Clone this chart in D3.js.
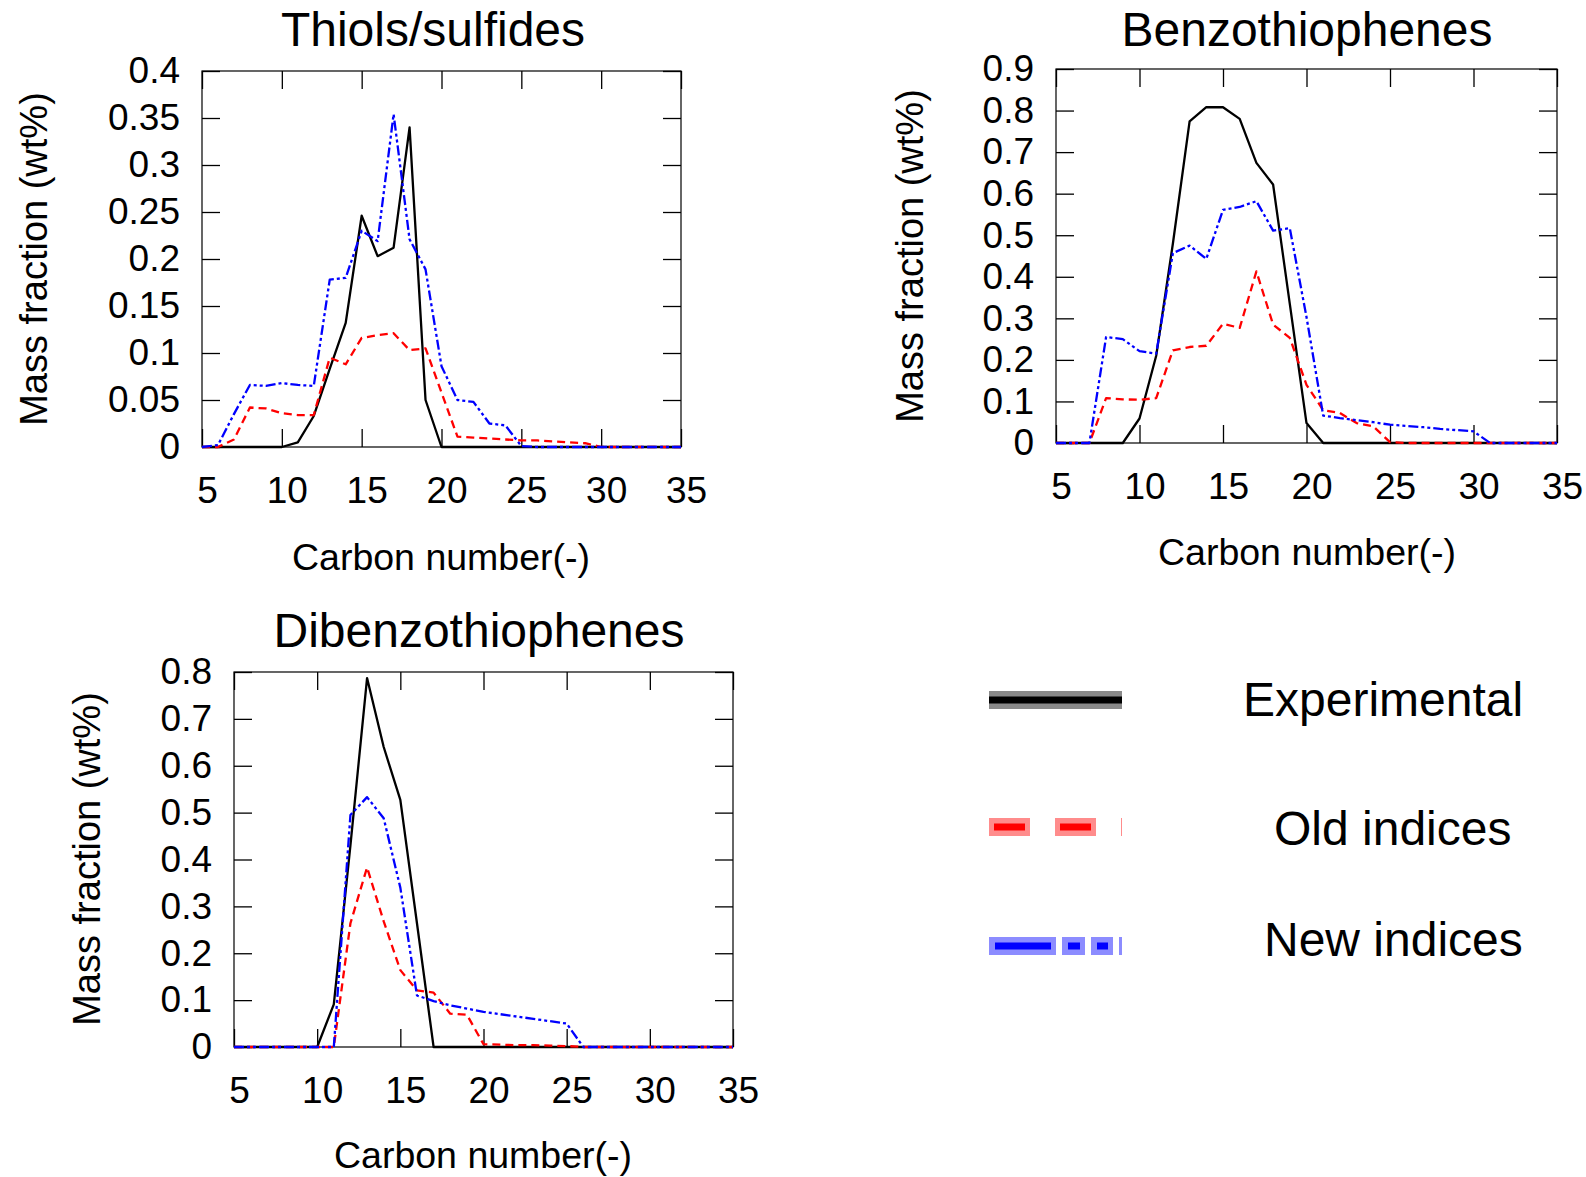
<!DOCTYPE html>
<html>
<head>
<meta charset="utf-8">
<script src="https://cdn.jsdelivr.net/npm/d3@7"></script>
<style>
  html, body { margin: 0; padding: 0; background: #fff; }
  svg { display: block; }
  text { font-family: "Liberation Sans", Arial, Helvetica, sans-serif; fill: #000; }
</style>
</head>
<body>
<svg id="chart" width="1586" height="1177"></svg>
<script>
// Carbon number grid shared by every panel
const carbonNumber = [5,6,7,8,9,10,11,12,13,14,15,16,17,18,19,20,21,22,23,24,25,26,27,28,29,30,31,32,33,34,35];
const xTickValues = [5,10,15,20,25,30,35];
const xTickLabels = ["5","10","15","20","25","30","35"];

// Thiols/sulfides (wt%)
const thiolsExperimental = [0,0,0,0,0,0,0.005,0.033,0.083,0.132,0.246,0.203,0.212,0.340,0.050,0,0,0,0,0,0,0,0,0,0,0,0,0,0,0,0];
const thiolsOld = [0,0,0.008,0.042,0.041,0.036,0.034,0.034,0.095,0.088,0.116,0.119,0.121,0.103,0.105,0.058,0.011,0.010,0.009,0.008,0.007,0.007,0.006,0.005,0.004,0,0,0,0,0,0];
const thiolsNew = [0,0.002,0.035,0.066,0.065,0.068,0.066,0.065,0.178,0.180,0.230,0.219,0.354,0.221,0.189,0.086,0.050,0.048,0.025,0.023,0.001,0,0,0,0,0,0,0,0,0,0];
const thiolsYTicks = [0,0.05,0.1,0.15,0.2,0.25,0.3,0.35,0.4];
const thiolsYLabels = ["0","0.05","0.1","0.15","0.2","0.25","0.3","0.35","0.4"];

// Benzothiophenes (wt%)
const benzoExperimental = [0,0,0,0,0,0.059,0.21,0.48,0.774,0.808,0.808,0.78,0.674,0.622,0.335,0.048,0,0,0,0,0,0,0,0,0,0,0,0,0,0,0];
const benzoOld = [0,0,0,0.108,0.105,0.104,0.108,0.223,0.231,0.234,0.287,0.277,0.413,0.285,0.253,0.14,0.079,0.072,0.048,0.040,0.002,0,0,0,0,0,0,0,0,0,0];
const benzoNew = [0,0,0,0.255,0.250,0.221,0.215,0.457,0.475,0.443,0.561,0.568,0.582,0.511,0.517,0.303,0.066,0.060,0.055,0.050,0.044,0.041,0.038,0.034,0.031,0.028,0,0,0,0,0];
const benzoYTicks = [0,0.1,0.2,0.3,0.4,0.5,0.6,0.7,0.8,0.9];
const benzoYLabels = ["0","0.1","0.2","0.3","0.4","0.5","0.6","0.7","0.8","0.9"];

// Dibenzothiophenes (wt%)
const dibenzoExperimental = [0,0,0,0,0,0,0.091,0.43,0.787,0.640,0.527,0.264,0,0,0,0,0,0,0,0,0,0,0,0,0,0,0,0,0,0,0];
const dibenzoOld = [0,0,0,0,0,0,0,0.264,0.383,0.268,0.164,0.121,0.116,0.071,0.069,0.006,0.005,0.004,0.004,0.003,0.002,0,0,0,0,0,0,0,0,0,0];
const dibenzoNew = [0,0,0,0,0,0,0,0.495,0.533,0.488,0.34,0.110,0.098,0.089,0.082,0.075,0.070,0.065,0.060,0.055,0.050,0,0,0,0,0,0,0,0,0,0];
const dibenzoYTicks = [0,0.1,0.2,0.3,0.4,0.5,0.6,0.7,0.8];
const dibenzoYLabels = ["0","0.1","0.2","0.3","0.4","0.5","0.6","0.7","0.8"];

const seriesNames = ["Experimental", "Old indices", "New indices"];
const seriesColors = ["#000000", "#ff0000", "#0000ff"];
const seriesDash = [null, "8,5", "10,3,3,3,3,3"];

const panels = [
  { title: "Thiols/sulfides", series: [thiolsExperimental, thiolsOld, thiolsNew],
    yTicks: thiolsYTicks, yLabels: thiolsYLabels,
    box: { left: 202, right: 681, top: 71, bottom: 447 },
    titlePos: [433, 46], xTitlePos: [441, 570], yTitlePos: [47, 259] },
  { title: "Benzothiophenes", series: [benzoExperimental, benzoOld, benzoNew],
    yTicks: benzoYTicks, yLabels: benzoYLabels,
    box: { left: 1056, right: 1557, top: 69, bottom: 443 },
    titlePos: [1307, 46], xTitlePos: [1307, 565], yTitlePos: [923, 256] },
  { title: "Dibenzothiophenes", series: [dibenzoExperimental, dibenzoOld, dibenzoNew],
    yTicks: dibenzoYTicks, yLabels: dibenzoYLabels,
    box: { left: 234, right: 733, top: 672, bottom: 1047 },
    titlePos: [479, 647], xTitlePos: [483, 1168], yTitlePos: [100, 859] }
];

const svg = d3.select("#chart");
const TICK = 18;

panels.forEach(p => {
  const b = p.box;
  const yMax = p.yTicks[p.yTicks.length - 1];
  const x = d3.scaleLinear().domain([5, 35]).range([b.left, b.right]);
  const y = d3.scaleLinear().domain([0, yMax]).range([b.bottom, b.top]);
  const g = svg.append("g");

  // inward ticks on all four sides
  const xLab = d => xTickLabels[xTickValues.indexOf(d)];
  const yLab = d => p.yLabels[p.yTicks.indexOf(d)];

  const bottomAxis = g.append("g").attr("transform", `translate(0,${b.bottom})`)
    .call(d3.axisBottom(x).tickValues(xTickValues).tickFormat(xLab).tickSizeInner(-TICK).tickSizeOuter(0).tickPadding(30));
  const topAxis = g.append("g").attr("transform", `translate(0,${b.top})`)
    .call(d3.axisTop(x).tickValues(xTickValues).tickFormat("").tickSizeInner(-TICK).tickSizeOuter(0));
  const leftAxis = g.append("g").attr("transform", `translate(${b.left},0)`)
    .call(d3.axisLeft(y).tickValues(p.yTicks).tickFormat(yLab).tickSizeInner(-TICK).tickSizeOuter(0).tickPadding(22));
  const rightAxis = g.append("g").attr("transform", `translate(${b.right},0)`)
    .call(d3.axisRight(y).tickValues(p.yTicks).tickFormat("").tickSizeInner(-TICK).tickSizeOuter(0));

  [bottomAxis, topAxis, leftAxis, rightAxis].forEach(a => {
    a.select(".domain").remove();
    a.selectAll("line").attr("stroke", "#000").attr("stroke-width", 1.3);
    a.selectAll("text").attr("font-size", 37)
      .attr("font-family", '"Liberation Sans", Arial, sans-serif').attr("fill", "#000");
  });
  bottomAxis.selectAll("text").attr("dx", 5);

  // frame
  g.append("rect")
    .attr("x", b.left).attr("y", b.top)
    .attr("width", b.right - b.left).attr("height", b.bottom - b.top)
    .attr("fill", "none").attr("stroke", "#000").attr("stroke-width", 1.2);

  // series lines
  const line = d3.line().x((d, i) => x(carbonNumber[i])).y(d => y(d));
  p.series.forEach((vals, k) => {
    g.append("path")
      .datum(vals)
      .attr("d", line)
      .attr("fill", "none")
      .attr("stroke", seriesColors[k])
      .attr("stroke-width", 2.3)
      .attr("stroke-linejoin", "round")
      .attr("stroke-dasharray", seriesDash[k]);
  });

  // titles
  g.append("text").attr("x", p.titlePos[0]).attr("y", p.titlePos[1])
    .attr("text-anchor", "middle").attr("font-size", 48).text(p.title);
  g.append("text").attr("x", p.xTitlePos[0]).attr("y", p.xTitlePos[1])
    .attr("text-anchor", "middle").attr("font-size", 37.5).text("Carbon number(-)");
  g.append("text")
    .attr("transform", `translate(${p.yTitlePos[0]},${p.yTitlePos[1]}) rotate(-90)`)
    .attr("text-anchor", "middle").attr("font-size", 38).text("Mass fraction (wt%)");
});

// legend
const legendRows = [
  { y: 700, textX: 1243, textY: 716,
    halo: { color: "#8a8a8a", dash: null, offset: 0 },
    core: { dash: null, offset: 0 } },
  { y: 827, textX: 1274, textY: 845,
    halo: { color: "#ff8c8c", dash: "41,25", offset: 0 },
    core: { dash: "31,35", offset: -5 } },
  { y: 946, textX: 1264, textY: 956,
    halo: { color: "#8c8cff", dash: "67,6,23,6,22,6", offset: 0 },
    core: { dash: "56,17,12,17,11,17", offset: -6 } }
];
const legend = svg.append("g");
const lx0 = 989, lx1 = 1122;
legendRows.forEach((r, k) => {
  legend.append("line").attr("x1", lx0).attr("x2", lx1).attr("y1", r.y).attr("y2", r.y)
    .attr("stroke", r.halo.color).attr("stroke-width", 18)
    .attr("stroke-dasharray", r.halo.dash).attr("stroke-dashoffset", r.halo.offset);
  legend.append("line").attr("x1", lx0).attr("x2", lx1).attr("y1", r.y).attr("y2", r.y)
    .attr("stroke", seriesColors[k]).attr("stroke-width", 7)
    .attr("stroke-dasharray", r.core.dash).attr("stroke-dashoffset", r.core.offset);
  legend.append("text").attr("x", r.textX).attr("y", r.textY)
    .attr("font-size", 48).text(seriesNames[k]);
});
</script>
</body>
</html>
